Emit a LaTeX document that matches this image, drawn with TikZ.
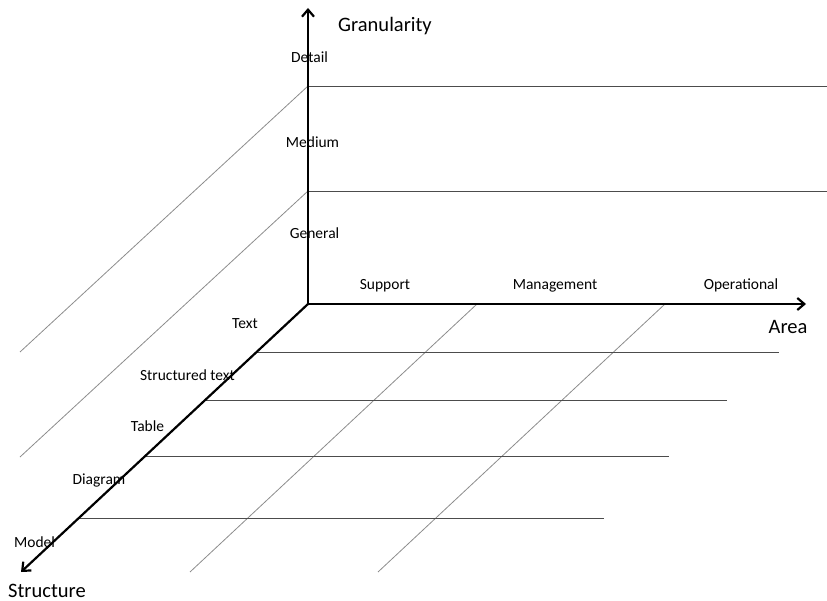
\documentclass[tikz,border=0pt]{standalone}
\usepackage{fontspec}
\setmainfont{Carlito}
\usetikzlibrary{arrows.meta}
\tikzset{
  axisline/.style={line width=2.2pt, -{Straight Barb[length=7pt,width=12pt]}},
  levelline/.style={line width=0.8pt, black!70},
  slantline/.style={line width=0.8pt, black!45},
  ticklabel/.style={font=\fontsize{15.5}{18}\selectfont, inner sep=0pt, anchor=base},
  axislabel/.style={font=\fontsize{20.5}{24}\selectfont, inner sep=0pt, anchor=base},
}

\begin{document}
\begin{tikzpicture}[x=1pt,y=-1pt]
\useasboundingbox (0,0) rectangle (827,601);

% Axis end points
\coordinate (O) at (308,304);
\coordinate (gtip) at (308,8);
\coordinate (atip) at (806,304);
\coordinate (stip) at (21,572);

% Granularity levels (back wall)
\coordinate (g1) at (308,191);
\coordinate (g2) at (308,86);
\draw[levelline] (g1) -- (827,191);
\draw[levelline] (g2) -- (827,86);
\draw[slantline] (g1) -- (20,457);
\draw[slantline] (g2) -- (20,352);

% Area divisions (floor)
\coordinate (a1) at (477,304);
\coordinate (a2) at (665,304);
\draw[slantline] (a1) -- (190,572);
\draw[slantline] (a2) -- (378,572);

% Structure levels (floor)
\coordinate (s1) at (256.4,352);
\coordinate (s2) at (204.8,400);
\coordinate (s3) at (144.7,456);
\coordinate (s4) at (78.3,518);
\draw[levelline] (s1) -- (779,352);
\draw[levelline] (s2) -- (727,400);
\draw[levelline] (s3) -- (669,456);
\draw[levelline] (s4) -- (604,518);

% Axes
\draw[axisline] (O) -- (gtip);
\draw[axisline] (O) -- (atip);
\draw[axisline] (O) -- (stip);

% Axis names
\node[axislabel] (granularity) at (385,32) {Granularity};
\node[axislabel] (area) at (788,334) {Area};
\node[axislabel] (structure) at (47,597) {Structure};

% Granularity labels
\node[ticklabel] (detail) at (309.5,63) {Detail};
\node[ticklabel] (medium) at (312.5,148) {Medium};
\node[ticklabel] (general) at (314.5,239) {General};

% Area labels
\node[ticklabel] (support) at (385,290) {Support};
\node[ticklabel] (management) at (555,290) {Management};
\node[ticklabel] (operational) at (741,290) {Operational};

% Structure labels
\node[ticklabel] (text) at (245,329) {Text};
\node[ticklabel] (structured) at (187.5,381) {Structured text};
\node[ticklabel] (table) at (147.5,431) {Table};
\node[ticklabel] (diagram) at (99,484) {Diagram};
\node[ticklabel] (model) at (34.5,547) {Model};
\end{tikzpicture}
\end{document}
